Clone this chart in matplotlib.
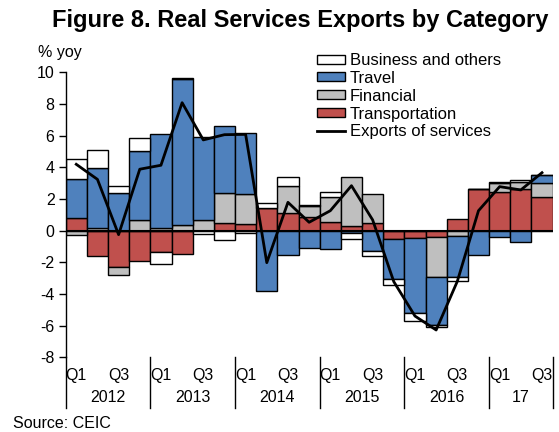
import matplotlib
matplotlib.use("Agg")
import matplotlib.pyplot as plt
import numpy as np
from matplotlib.patches import Patch
from matplotlib.lines import Line2D

plt.rcParams['font.family'] = ['Liberation Sans', 'DejaVu Sans']
plt.rcParams['axes.unicode_minus'] = False

years = ["2012", "2013", "2014", "2015", "2016", "17"]
quarters_per_year = [4, 4, 4, 4, 4, 3]
q_labels = ["Q1", "", "Q3", ""]

transport = [0.78, -1.6, -2.27, -1.89, -1.32, -1.47, 0.0, 0.5, 0.4, 1.41, 1.1, 0.88,
             0.53, 0.32, 0.46, -0.55, -0.48, -0.38, 0.74, 2.63, 2.42, 2.63, 2.15]
financial = [-0.25, 0.2, -0.55, 0.68, 0.15, 0.34, 0.65, 1.9, 1.92, 0.0, 1.72, 0.68,
             1.58, 3.09, 1.86, 0.0, 0.0, -2.56, -0.33, 0.0, 0.61, 0.47, 0.84]
travel = [2.46, 3.76, 2.4, 4.35, 5.93, 9.24, 5.29, 4.21, 3.83, -3.79, -1.53, -1.11,
          -1.18, -0.17, -1.26, -2.52, -4.74, -3.01, -2.61, -1.53, -0.38, -0.69, 0.55]
business = [1.27, 1.13, 0.42, 0.84, -0.8, 0.08, -0.2, -0.6, -0.15, 0.32, 0.55, 0.05,
            0.35, -0.33, -0.34, -0.36, -0.46, -0.15, -0.26, 0.0, 0.07, 0.1, 0.0]
exports = [4.19, 3.24, -0.25, 3.88, 4.13, 8.08, 5.73, 6.06, 6.08, -2.02, 1.79, 0.53,
           1.26, 2.84, 0.68, -3.22, -5.39, -6.27, -3.2, 1.26, 2.78, 2.57, 3.66]

series = [("Transportation", transport, "#C0504D"),
          ("Financial", financial, "#BFBFBF"),
          ("Travel", travel, "#4F81BD"),
          ("Business and others", business, "#FFFFFF")]

n = len(exports)
x = np.arange(n)

fig = plt.figure(figsize=(5.59, 4.32), dpi=100)
ax = fig.add_axes([0.1175, 0.1727, 0.8710, 0.6600])

pos_bottom = np.zeros(n)
neg_bottom = np.zeros(n)
for name, vals, col in series:
    v = np.array(vals)
    bottom = np.where(v >= 0, pos_bottom, neg_bottom)
    ax.bar(x, v, width=1.0, bottom=bottom, color=col, edgecolor="black",
           linewidth=1.0, zorder=2)
    pos_bottom += np.where(v >= 0, v, 0)
    neg_bottom += np.where(v < 0, v, 0)

ax.axhline(0, color="black", lw=1.5, zorder=3)
ax.plot(x, exports, color="black", lw=2.0, zorder=4)

ax.set_xlim(-0.5, n - 0.5)
ax.set_ylim(-8, 10)
ax.set_yticks(np.arange(-8, 11, 2))
ax.tick_params(axis="y", direction="out", length=5, width=1, labelsize=11.5, pad=3)
ax.set_xticks([])
for s in ["top", "right", "bottom"]:
    ax.spines[s].set_visible(False)
ax.spines["left"].set_linewidth(1.0)

# year separators and labels
start = 0
seps = [-0.5]
for yr, nq in zip(years, quarters_per_year):
    for qi in range(nq):
        lab = q_labels[qi]
        if lab:
            ax.text(start + qi, -0.065, lab, transform=ax.get_xaxis_transform(),
                    ha="center", va="center", fontsize=11.5)
    ax.text(start + (nq - 1) / 2, -0.14, yr, transform=ax.get_xaxis_transform(),
            ha="center", va="center", fontsize=11.5)
    start += nq
    seps.append(start - 0.5)
for s in seps:
    ax.plot([s, s], [0, -0.178], transform=ax.get_xaxis_transform(),
            color="black", lw=1.0, clip_on=False)

fig.text(300 / 559, 1 - 20 / 432, "Figure 8. Real Services Exports by Category",
         ha="center", va="center", fontsize=17, fontweight="bold")
fig.text(38 / 559, 1 - 53 / 432, "% yoy", ha="left", va="center", fontsize=11.5)
fig.text(13 / 559, 1 - 423 / 432, "Source: CEIC", ha="left", va="center", fontsize=11.5)

handles = [Patch(facecolor="#FFFFFF", edgecolor="black", label="Business and others"),
           Patch(facecolor="#4F81BD", edgecolor="black", label="Travel"),
           Patch(facecolor="#BFBFBF", edgecolor="black", label="Financial"),
           Patch(facecolor="#C0504D", edgecolor="black", label="Transportation"),
           Line2D([0], [0], color="black", lw=2.0, label="Exports of services")]
fig.legend(handles=handles, loc="upper left", bbox_to_anchor=(317 / 559, 1 - 53 / 432),
           frameon=False, fontsize=12, handlelength=1.7, handleheight=0.45,
           handletextpad=0.25, labelspacing=0.17, borderpad=0, borderaxespad=0)

fig.savefig("out.png", dpi=100)
